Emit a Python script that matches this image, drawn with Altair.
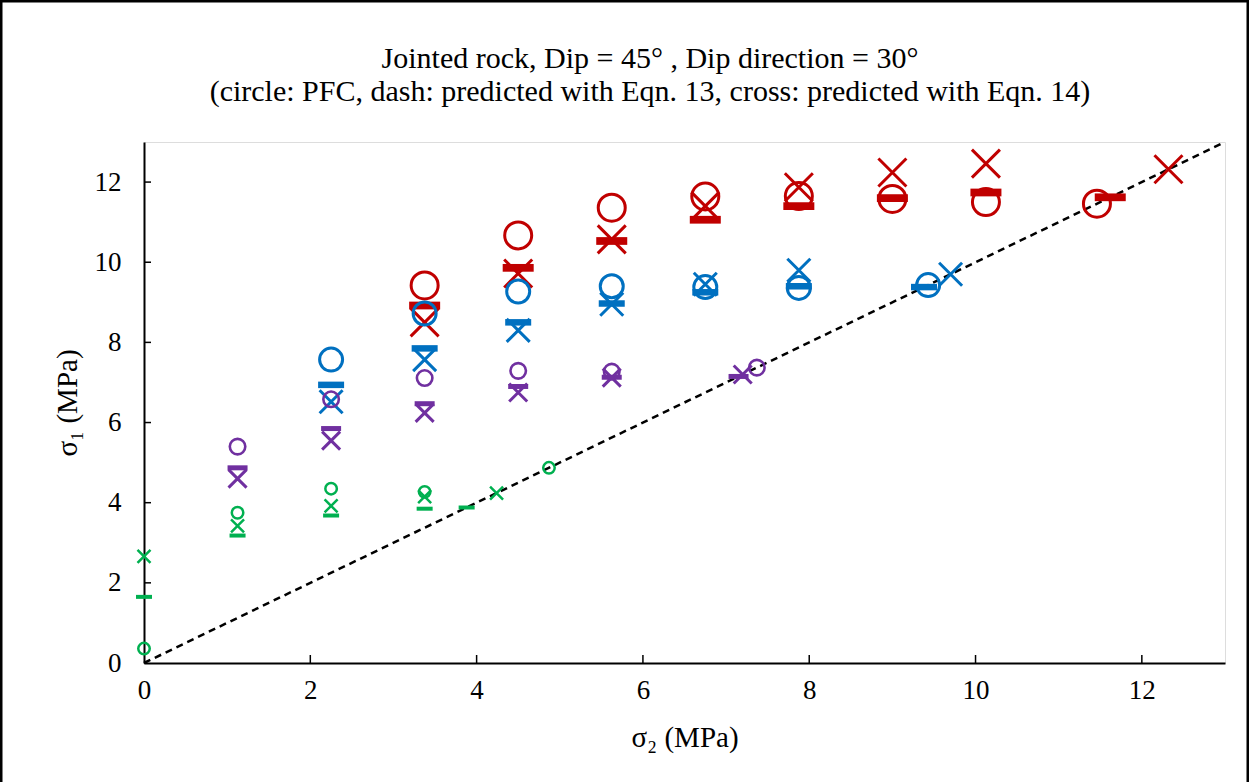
import altair as alt
import pandas as pd

# ---- data ----
groups = ["red", "blue", "purple", "green"]
colors = ["#C00000", "#0070C0", "#7030A0", "#00B050"]

# PFC (circles)
pfc_x = {
    "red": [3.375, 4.5, 5.625, 6.75, 7.875, 9.0, 10.125, 11.46],
    "blue": [2.25, 3.375, 4.5, 5.625, 6.75, 7.875, 9.43],
    "purple": [1.125, 2.25, 3.375, 4.5, 5.625, 7.37],
    "green": [0.0, 1.125, 2.25, 3.375, 4.87],
}
pfc_y = {
    "red": [9.42, 10.67, 11.36, 11.64, 11.65, 11.58, 11.5, 11.46],
    "blue": [7.57, 8.72, 9.27, 9.4, 9.38, 9.36, 9.43],
    "purple": [5.40, 6.58, 7.11, 7.29, 7.27, 7.37],
    "green": [0.36, 3.75, 4.35, 4.27, 4.87],
}
# Eqn. 13 (dashes)
eq13_x = {
    "red": [3.375, 4.5, 5.625, 6.75, 7.875, 9.0, 10.125, 11.62],
    "blue": [2.25, 3.375, 4.5, 5.625, 6.75, 7.875, 9.38],
    "purple": [1.125, 2.25, 3.375, 4.5, 5.625, 7.15],
    "green": [0.0, 1.125, 2.25, 3.375, 3.88],
}
eq13_y = {
    "red": [8.92, 9.86, 10.53, 11.06, 11.4, 11.6, 11.74, 11.62],
    "blue": [6.94, 7.85, 8.5, 8.97, 9.25, 9.4, 9.38],
    "purple": [4.87, 5.85, 6.47, 6.9, 7.13, 7.15],
    "green": [1.65, 3.18, 3.68, 3.85, 3.88],
}
# Eqn. 14 (crosses)
eq14_x = {
    "red": [3.375, 4.5, 5.625, 6.75, 7.875, 9.0, 10.125, 12.32],
    "blue": [2.25, 3.375, 4.5, 5.625, 6.75, 7.875, 9.7],
    "purple": [1.125, 2.25, 3.375, 4.5, 5.625, 7.2],
    "green": [0.0, 1.125, 2.25, 3.375, 4.24],
}
eq14_y = {
    "red": [8.5, 9.72, 10.57, 11.4, 11.87, 12.24, 12.46, 12.32],
    "blue": [6.52, 7.57, 8.3, 8.95, 9.45, 9.8, 9.7],
    "purple": [4.6, 5.55, 6.24, 6.75, 7.12, 7.2],
    "green": [2.66, 3.42, 3.92, 4.15, 4.24],
}

line_x = [0, 13]
line_y = [0, 13]
tick_values = [0, 2, 4, 6, 8, 10, 12]
inner_ticks = [2, 4, 6, 8, 10, 12]

title_line1 = "Jointed rock, Dip = 45° , Dip direction = 30°"
title_line2 = "(circle: PFC, dash: predicted with Eqn. 13, cross: predicted with Eqn. 14)"
x_title = "σ₂ (MPa)"
y_title = "σ₁ (MPa)"

# ---- styling ----
FONT = "Liberation Serif"
circle_size = {"red": 729, "blue": 529, "purple": 240, "green": 132}
circle_sw = {"red": 3, "blue": 3, "purple": 2.6, "green": 2.5}
dash_size = {"red": 961, "blue": 676, "purple": 400, "green": 256}
cross_size = {"red": 784, "blue": 529, "purple": 324, "green": 169}
cross_sw = {"red": 3, "blue": 3, "purple": 3, "green": 2.5}
DASH_PATH = "M-1,-0.25H1V0.25H-1Z"
CROSS_PATH = "M-1,-1L1,1M-1,1L1,-1"

W, H = 1081, 521
xs = alt.Scale(domain=[0, 13], nice=False, zero=False)
ys = alt.Scale(domain=[0, 13], nice=False, zero=False)

x_axis = alt.Axis(values=tick_values, title=x_title, format="d", labelFlush=False,
                  labelPadding=14, titlePadding=20)
y_axis = alt.Axis(values=tick_values, title=y_title, format="d", labelFlush=False,
                  labelPadding=23, titlePadding=12)

line_df = pd.DataFrame({"x": line_x, "y": line_y})
base_line = alt.Chart(line_df).mark_line(color="black", strokeWidth=2.5,
                                         strokeDash=[7, 5]).encode(
    x=alt.X("x:Q", scale=xs, axis=x_axis),
    y=alt.Y("y:Q", scale=ys, axis=y_axis),
)

layers = [base_line]
for g, c in zip(groups, colors):
    dfc = pd.DataFrame({"x": pfc_x[g], "y": pfc_y[g]})
    layers.append(alt.Chart(dfc).mark_point(shape="circle", filled=False, color=c,
                                            strokeWidth=circle_sw[g], opacity=1,
                                            size=circle_size[g]).encode(
        x=alt.X("x:Q", scale=xs), y=alt.Y("y:Q", scale=ys)))
    dfd = pd.DataFrame({"x": eq13_x[g], "y": eq13_y[g]})
    layers.append(alt.Chart(dfd).mark_point(shape=DASH_PATH, filled=True, color=c,
                                            opacity=1, strokeWidth=0,
                                            size=dash_size[g]).encode(
        x=alt.X("x:Q", scale=xs), y=alt.Y("y:Q", scale=ys)))
    dfx = pd.DataFrame({"x": eq14_x[g], "y": eq14_y[g]})
    layers.append(alt.Chart(dfx).mark_point(shape=CROSS_PATH, filled=False, color=c,
                                            opacity=1, strokeWidth=cross_sw[g],
                                            size=cross_size[g]).encode(
        x=alt.X("x:Q", scale=xs), y=alt.Y("y:Q", scale=ys)))

tick_df = pd.DataFrame({"t": inner_ticks})
xticks = alt.Chart(tick_df).mark_rule(color="black", strokeWidth=1.5).encode(
    x=alt.X("t:Q", scale=xs), y=alt.value(H), y2=alt.value(H - 8))
yticks = alt.Chart(tick_df).mark_rule(color="black", strokeWidth=1.5).encode(
    y=alt.Y("t:Q", scale=ys), x=alt.value(0), x2=alt.value(7))

frame = alt.Chart(pd.DataFrame({"a": [0]})).mark_rect(
    fill=None, stroke="black", strokeWidth=3).encode(
    x=alt.value(-144 + 1), x2=alt.value(W + 24 - 1),
    y=alt.value(-142 + 1), y2=alt.value(H + 200))

def title_text(txt, baseline_y):
    return alt.Chart(pd.DataFrame({"t": [txt]})).mark_text(
        font=FONT, fontSize=30, color="black", align="center", baseline="alphabetic"
    ).encode(text="t:N", x=alt.value(650 - 144), y=alt.value(baseline_y - 142))

t1 = title_text(title_line1, 68)
t2 = title_text(title_line2, 101)

chart = alt.layer(*layers, xticks, yticks, frame, t1, t2).properties(
    width=W, height=H,
    padding={"left": 144, "top": 142, "right": 24, "bottom": 119},
    autosize=alt.AutoSizeParams(type="none"),
).configure_view(stroke=None).configure(
    background="white"
).configure_axis(
    grid=False, tickSize=0, domainColor="black", domainWidth=2,
    labelFontSize=27, titleFontSize=29, labelFont=FONT, titleFont=FONT,
    titleFontWeight="normal", labelColor="black", titleColor="black",
)

chart.save("out.html", embed_options={"renderer": "svg", "actions": False})
